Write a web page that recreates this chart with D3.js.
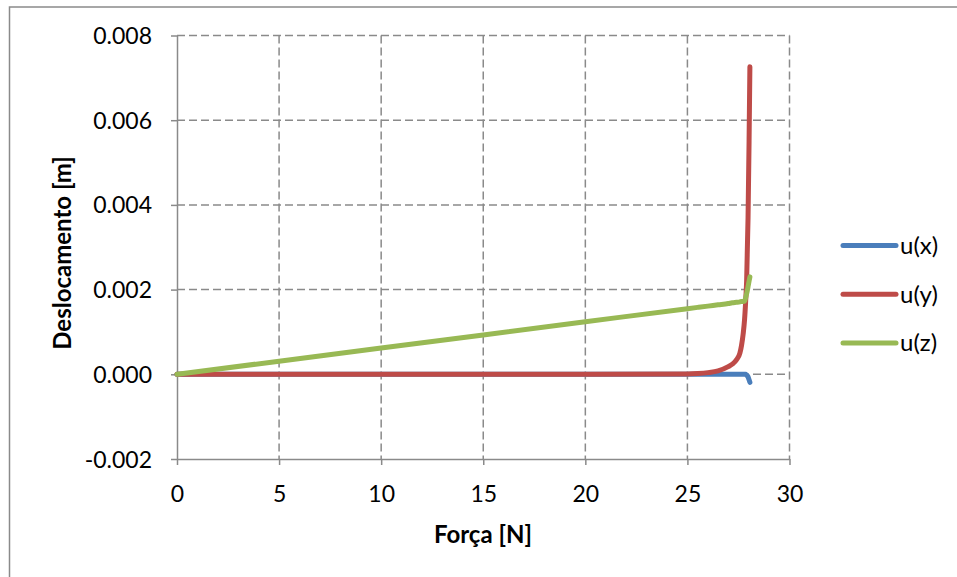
<!DOCTYPE html>
<html><head><meta charset="utf-8">
<script src="https://cdn.jsdelivr.net/npm/d3@7"></script>
<style>body{margin:0;background:#fff;} text{font-family:Lato,"Open Sans",sans-serif;}</style>
</head><body>
<svg id="c" width="957" height="577"></svg>
<script>
const force = [0,5,10,15,20,25,25.5,26,26.5,27,27.2,27.4,27.57,27.65,27.73,27.8,27.85,27.9,27.97,28.02,28.06];
const ux = [0,0,0,0,0,0,0,0,0,0,0,0,0,0,0,0,0,-0.00002,-0.00006,-0.00013,-0.00019];
const uy = [0,0,0,0,0,0.00001,0.00002,0.00004,0.00008,0.00018,0.00024,0.00034,0.0005,0.00068,0.00095,0.0013,0.0017,0.0022,0.0037,0.0055,0.00726];
const uz = [0,0.00031,0.00062,0.00093,0.00124,0.00155,0.00158,0.00161,0.00164,0.00167,0.00169,0.0017,0.00171,0.00172,0.00172,0.00173,0.0018,0.0019,0.00207,0.0022,0.0023];
const seriesNames = ["u(x)","u(y)","u(z)"];
const seriesColors = ["#4A7EBB","#BE4B48","#98B954"];
const xTicks = [0,5,10,15,20,25,30];
const yTicks = [-0.002,0,0.002,0.004,0.006,0.008];
const xTitle = "Força [N]";
const yTitle = "Deslocamento [m]";

const svg = d3.select("#c");
const L=177, R=789.5, T=35.5, B=459;
const x = d3.scaleLinear().domain([0,30]).range([L,R]);
const y = d3.scaleLinear().domain([-0.002,0.008]).range([B,T]);
const grey="#8a8a8a";

svg.append("rect").attr("x",9.5).attr("y",7).attr("width",960).attr("height",580)
  .attr("fill","none").attr("stroke",grey).attr("stroke-width",1.5);

// gridlines
svg.append("g").selectAll("line").data(yTicks.filter(d=>d!==-0.002)).join("line")
  .attr("x1",L).attr("x2",R).attr("y1",d=>y(d)).attr("y2",d=>y(d))
  .attr("stroke",grey).attr("stroke-width",1.5).attr("stroke-dasharray","8,4");
svg.append("g").selectAll("line").data(xTicks.filter(d=>d!==0)).join("line")
  .attr("x1",d=>x(d)).attr("x2",d=>x(d)).attr("y1",T).attr("y2",B)
  .attr("stroke",grey).attr("stroke-width",1.5).attr("stroke-dasharray","8,4");

// axes
const fmtY = d => d3.format(".3f")(d).replace("\u2212","-");
const xa = svg.append("g").attr("transform",`translate(0,${B})`)
  .call(d3.axisBottom(x).tickValues(xTicks).tickSize(6).tickSizeOuter(0).tickFormat(d3.format("d")));
const ya = svg.append("g").attr("transform",`translate(${L},0)`)
  .call(d3.axisLeft(y).tickValues(yTicks).tickSize(6).tickSizeOuter(0).tickFormat(fmtY));
[xa,ya].forEach(a=>{
  a.select(".domain").attr("stroke",grey).attr("stroke-width",1.5);
  a.selectAll(".tick line").attr("stroke",grey).attr("stroke-width",1.5);
  a.selectAll(".tick text").attr("fill","#000").style("font-size","23px").style("font-family","Lato");
});
xa.selectAll(".tick text").attr("dy",0).attr("y",43);
ya.selectAll(".tick text").attr("x",-25).attr("dy","0.35em");

// lines
const data = [ux,uy,uz];
const line = d3.line().x((d,i)=>x(force[i])).y(d=>y(d)).curve(d3.curveMonotoneX);
svg.append("g").selectAll("path").data(data).join("path")
  .attr("d",line).attr("fill","none")
  .attr("stroke",(d,i)=>seriesColors[i]).attr("stroke-width",5).attr("stroke-linecap","round");

// legend
const lg = svg.append("g").selectAll("g").data(seriesNames).join("g")
  .attr("transform",(d,i)=>`translate(0,${245.5+i*48.7})`);
lg.append("line").attr("x1",843).attr("x2",896).attr("y1",0).attr("y2",0)
  .attr("stroke",(d,i)=>seriesColors[i]).attr("stroke-width",5).attr("stroke-linecap","round");
lg.append("text").attr("x",900).attr("y",0).attr("dy","0.35em").text(d=>d)
  .style("font-size","24px");

// titles
svg.append("text").attr("x",483).attr("y",543).attr("text-anchor","middle")
  .style("font-size","24px").style("font-weight","bold").text(xTitle);
svg.append("text").attr("transform","translate(71,253) rotate(-90)").attr("text-anchor","middle")
  .style("font-size","24px").style("font-weight","bold").text(yTitle);
</script>
</body></html>
